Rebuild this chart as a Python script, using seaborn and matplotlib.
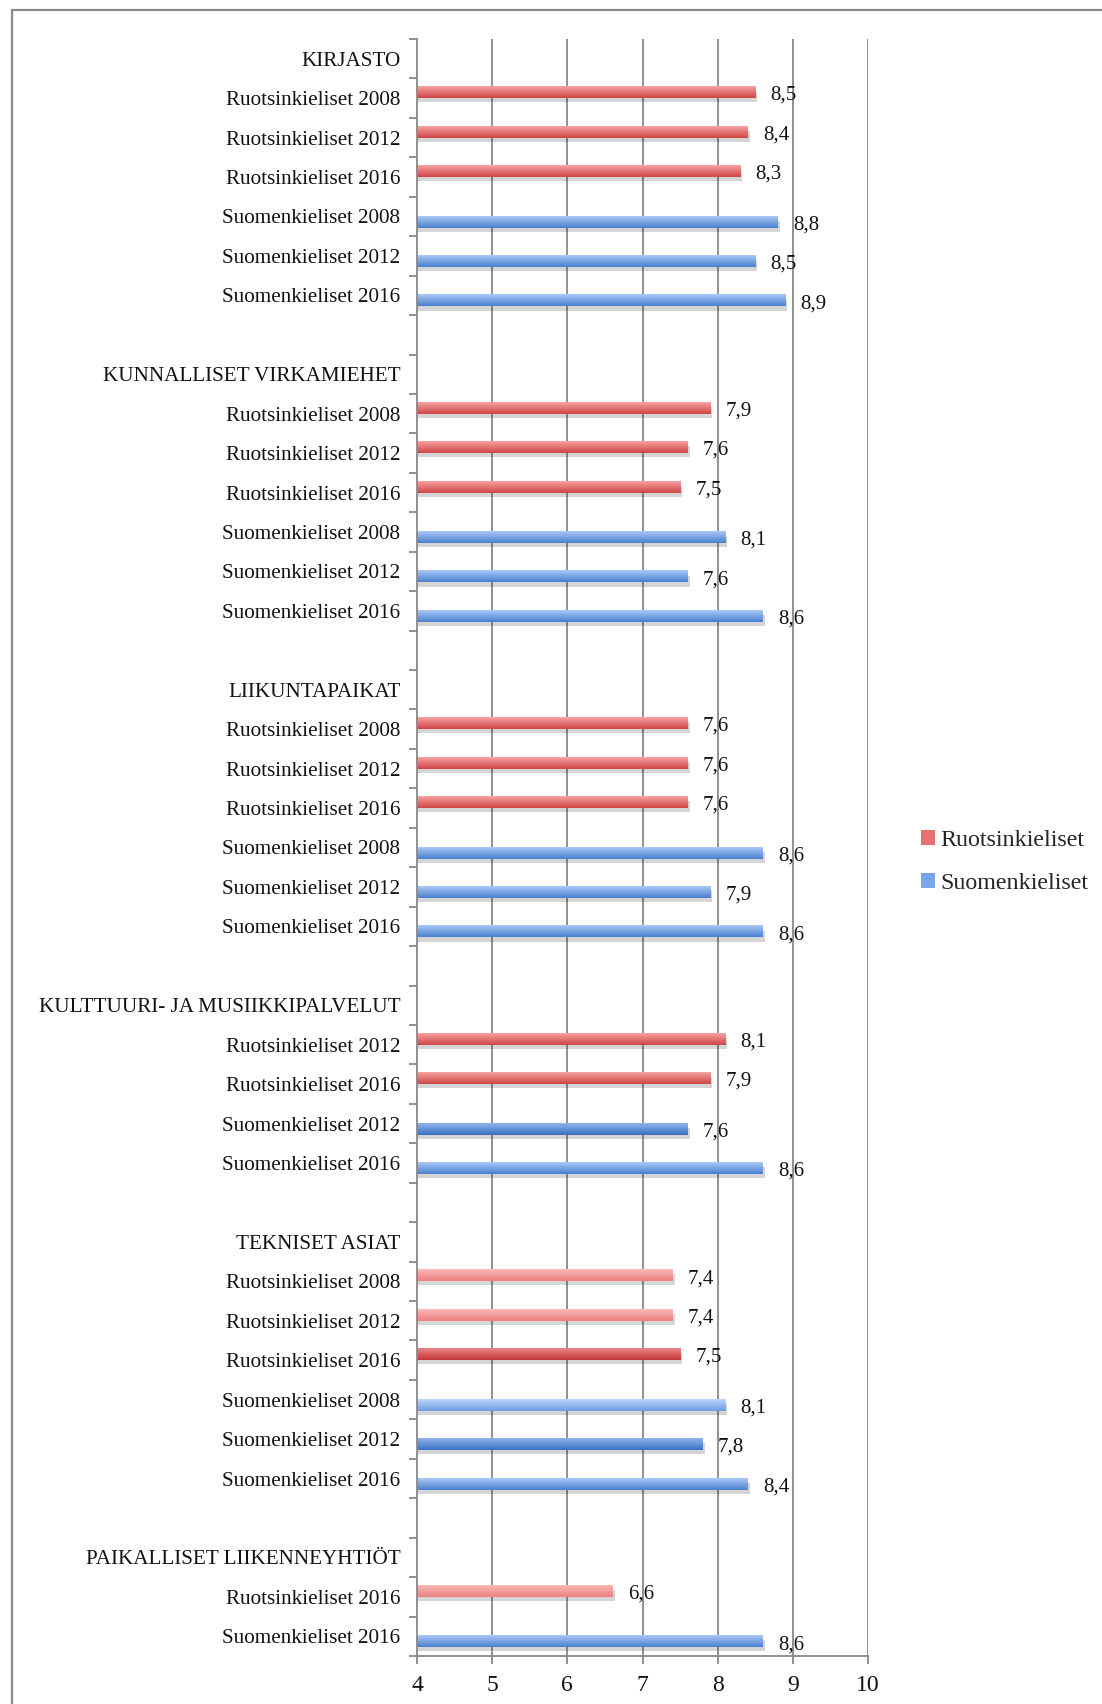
import numpy as np
import pandas as pd
import matplotlib
matplotlib.use("Agg")
import matplotlib.pyplot as plt
import matplotlib.patheffects as pe
from matplotlib.colors import to_rgb
from matplotlib.patches import Patch, Rectangle
import seaborn as sns

# --- data -------------------------------------------------------------
RUO = "Ruotsinkieliset"
SUO = "Suomenkieliset"

row_labels = [
    "KIRJASTO",
    "Ruotsinkieliset 2008", "Ruotsinkieliset 2012", "Ruotsinkieliset 2016",
    "Suomenkieliset 2008", "Suomenkieliset 2012", "Suomenkieliset 2016",
    "",
    "KUNNALLISET VIRKAMIEHET",
    "Ruotsinkieliset 2008", "Ruotsinkieliset 2012", "Ruotsinkieliset 2016",
    "Suomenkieliset 2008", "Suomenkieliset 2012", "Suomenkieliset 2016",
    "",
    "LIIKUNTAPAIKAT",
    "Ruotsinkieliset 2008", "Ruotsinkieliset 2012", "Ruotsinkieliset 2016",
    "Suomenkieliset 2008", "Suomenkieliset 2012", "Suomenkieliset 2016",
    "",
    "KULTTUURI- JA MUSIIKKIPALVELUT",
    "Ruotsinkieliset 2012", "Ruotsinkieliset 2016",
    "Suomenkieliset 2012", "Suomenkieliset 2016",
    "",
    "TEKNISET ASIAT",
    "Ruotsinkieliset 2008", "Ruotsinkieliset 2012", "Ruotsinkieliset 2016",
    "Suomenkieliset 2008", "Suomenkieliset 2012", "Suomenkieliset 2016",
    "",
    "PAIKALLISET LIIKENNEYHTIÖT",
    "Ruotsinkieliset 2016",
    "Suomenkieliset 2016",
]

row_values = [
    None, 8.5, 8.4, 8.3, 8.8, 8.5, 8.9, None,
    None, 7.9, 7.6, 7.5, 8.1, 7.6, 8.6, None,
    None, 7.6, 7.6, 7.6, 8.6, 7.9, 8.6, None,
    None, 8.1, 7.9, 7.6, 8.6, None,
    None, 7.4, 7.4, 7.5, 8.1, 7.8, 8.4, None,
    None, 6.6, 8.6,
]

# --- bar shading (top colour, bottom colour) ---------------------------
shades = {
    "red": ("#f7a3a3", "#cf4545"),
    "red_light": ("#fbb8b8", "#ee8080"),
    "red_dark": ("#ea8585", "#c23535"),
    "blue": ("#aac9f7", "#4a80d0"),
    "blue_light": ("#bcd6fa", "#6d9de2"),
    "blue_dark": ("#8db5ec", "#3a70c4"),
}
tone_override = {31: "red_light", 32: "red_light", 33: "red_dark", 39: "red_light",
                 27: "blue_dark", 34: "blue_light", 35: "blue_dark"}

keys = [f"r{i:02d}" for i in range(len(row_labels))]
records = []
for i, (lab, val) in enumerate(zip(row_labels, row_values)):
    if val is None:
        continue
    grp = RUO if lab.startswith("Ruotsin") else SUO
    records.append({"rivi": keys[i], "arvo": val, "ryhma": grp, "idx": i})
df = pd.DataFrame(records)

# --- figure -----------------------------------------------------------
sns.set_theme(style="white")
plt.rcParams["font.family"] = ["Liberation Serif", "DejaVu Serif"]

W, H = 1102, 1704
XMIN, XMAX = 4, 10
fig = plt.figure(figsize=(W / 100, H / 100), dpi=100)
ax = fig.add_axes([417 / W, 1 - 1656 / H, (868 - 417) / W, (1656 - 39) / H])

sns.barplot(data=df, x="arvo", y="rivi", hue="ryhma", order=keys,
            hue_order=[RUO, SUO], palette={RUO: "#dd5c5c", SUO: "#6596e0"},
            orient="h", width=0.56, dodge=True, errorbar=None, legend=False,
            ax=ax, linewidth=0)

# gradient fill + soft shadow on every bar (visible part only)
grad = np.linspace(0, 1, 64)[:, None]
for cont, grp in zip(ax.containers, [RUO, SUO]):
    sub = df[df["ryhma"] == grp].reset_index(drop=True)
    for bar, (_, rec) in zip(cont.patches, sub.iterrows()):
        if np.isnan(bar.get_width()):
            continue
        base = "red" if grp == RUO else "blue"
        top, bot = shades[tone_override.get(rec["idx"], base)]
        t, b = np.array(to_rgb(top)), np.array(to_rgb(bot))
        img = t[None, None, :] * (1 - grad[..., None]) + b[None, None, :] * grad[..., None]
        img = np.repeat(img, 2, axis=1)
        x0, y0 = bar.get_x(), bar.get_y()
        w, h = bar.get_width(), bar.get_height()
        bar.set_path_effects([pe.SimplePatchShadow(offset=(1.5, -3), shadow_rgbFace="k", alpha=0.18),
                              pe.Normal()])
        ax.imshow(img, extent=(max(x0, XMIN), x0 + w, y0 + h, y0), aspect="auto",
                  interpolation="bilinear", zorder=bar.get_zorder() + 0.1)
    anns = ax.bar_label(cont, labels=[f"{v:.1f}".replace(".", ",") for v in cont.datavalues],
                        padding=11, fontsize=15, color="#111111")
    for a in anns:
        a.xyann = (11, -2)

ax.set_xlim(XMIN, XMAX)
ax.set_ylim(len(keys) - 0.5, -0.5)
ax.set_aspect("auto")

# axes styling
ax.set_xlabel("")
ax.set_ylabel("")
ax.set_xticks(range(XMIN, XMAX + 1))
ax.set_xticklabels([str(v) for v in range(XMIN, XMAX + 1)], fontsize=17, color="#111111")
ax.tick_params(axis="x", length=6, width=1.3, color="#888888", pad=8, bottom=True)

ax.set_yticks(range(len(keys)))
ax.set_yticklabels(row_labels, fontsize=15.2, color="#111111")
ax.tick_params(axis="y", which="major", length=0, pad=12)
ax.set_yticks(np.arange(-0.5, len(keys), 1.0), minor=True)
ax.tick_params(axis="y", which="minor", length=6, width=1.3, color="#888888", left=True)

for s in ["top", "right"]:
    ax.spines[s].set_visible(False)
for s in ["left", "bottom"]:
    ax.spines[s].set_color("#888888")
    ax.spines[s].set_linewidth(1.3)

for xv in range(XMIN + 1, XMAX + 1):
    ax.axvline(xv, color="#888888", lw=1.3, zorder=0)

# legend
handles = [Patch(facecolor="#e47070", edgecolor="none", label=RUO),
           Patch(facecolor="#7aa5e8", edgecolor="none", label=SUO)]
fig.legend(handles=handles, loc="center left", bbox_to_anchor=(921 / W, 1 - 862 / H),
           frameon=False, fontsize=17.3, handlelength=0.6, handleheight=0.6,
           handletextpad=0.2, labelspacing=0.9, borderpad=0, borderaxespad=0)

# outer frame
fig.add_artist(Rectangle((11.5 / W, -0.2), 2, 1.2 - 10 / H, transform=fig.transFigure,
                         fill=False, edgecolor="#8a8a8a", lw=1.6, clip_on=False))

fig.savefig("out.png", dpi=100)
